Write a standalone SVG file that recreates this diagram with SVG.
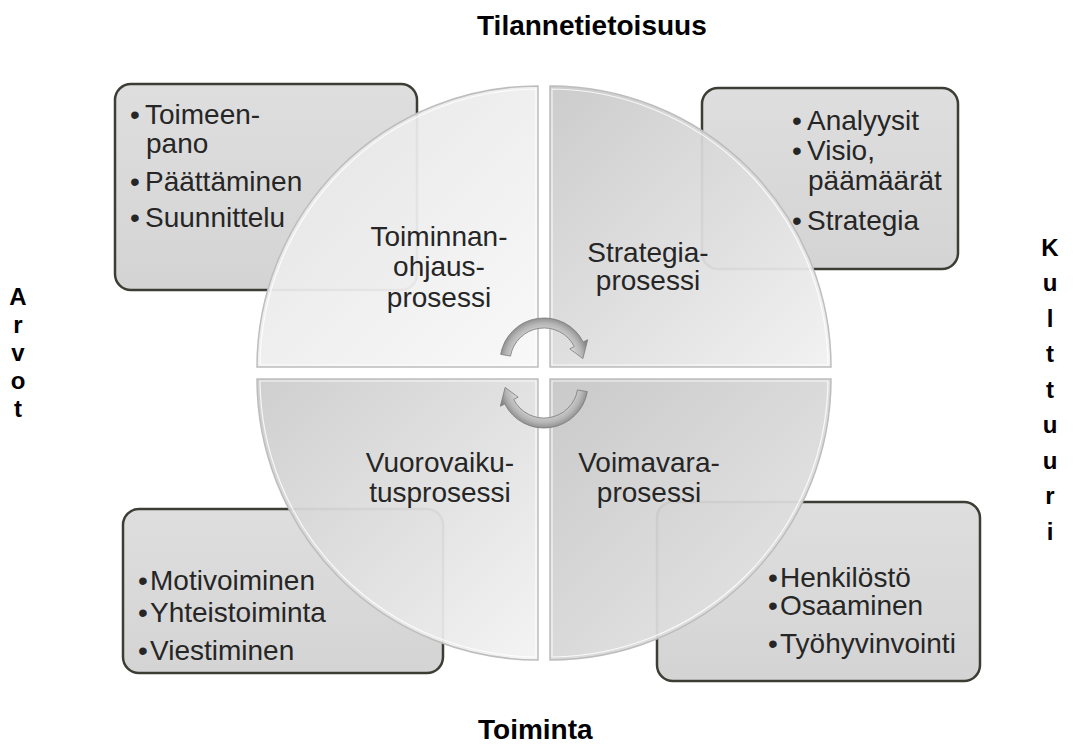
<svg xmlns="http://www.w3.org/2000/svg" width="1077" height="747" viewBox="0 0 1077 747">
  <style>
    text { font-family: "Liberation Sans", Arial, sans-serif; fill: #262626; }
    .hd { font-size: 28px; font-weight: bold; fill: #000; }
    .bt { font-size: 28px; }
    .ql { font-size: 28px; text-anchor: middle; }
    .vt { font-size: 24px; font-weight: bold; fill: #000; text-anchor: middle; }
    .box { fill: url(#gBox); stroke: #3d3d36; stroke-width: 2.5; }
    .quad { stroke: #bdbdbd; stroke-width: 1.5; fill-opacity: 0.94; }
    .hl { fill: none; stroke: #ffffff; stroke-width: 1.2; stroke-opacity: 0.8; }
    .arr { fill: url(#gArr); stroke: #7a7a7a; stroke-width: 0.8; }
  </style>
  <defs>
    <linearGradient id="gBox" x1="0" y1="0" x2="0" y2="1">
      <stop offset="0" stop-color="#dedede"/>
      <stop offset="1" stop-color="#d4d4d4"/>
    </linearGradient>
    <linearGradient id="gTL" x1="0" y1="0" x2="1" y2="1">
      <stop offset="0" stop-color="#e4e4e4"/>
      <stop offset="1" stop-color="#f8f8f8"/>
    </linearGradient>
    <linearGradient id="gTR" x1="0" y1="0" x2="1" y2="1">
      <stop offset="0" stop-color="#c9c9c9"/>
      <stop offset="1" stop-color="#f1f1f1"/>
    </linearGradient>
    <linearGradient id="gBL" x1="0" y1="0" x2="1" y2="1">
      <stop offset="0" stop-color="#cccccc"/>
      <stop offset="1" stop-color="#f3f3f3"/>
    </linearGradient>
    <linearGradient id="gBR" x1="0" y1="0" x2="1" y2="1">
      <stop offset="0" stop-color="#c6c6c6"/>
      <stop offset="1" stop-color="#e9e9e9"/>
    </linearGradient>
    <radialGradient id="gArr" gradientUnits="userSpaceOnUse" cx="544" cy="362" r="50">
      <stop offset="0.6" stop-color="#d8d8d8"/>
      <stop offset="0.78" stop-color="#b4b4b4"/>
      <stop offset="0.9" stop-color="#8a8a8a"/>
      <stop offset="1" stop-color="#7a7a7a"/>
    </radialGradient>
  </defs>

  <rect width="1077" height="747" fill="#ffffff"/>

  <!-- text boxes (behind the circle) -->
  <g id="box-toiminnanohjaus">
    <rect class="box" x="115" y="84" width="302" height="206" rx="16"/>
    <text class="bt"><tspan x="130" y="124">•</tspan><tspan x="145" y="124">Toimeen-</tspan></text>
    <text class="bt" x="146" y="153">pano</text>
    <text class="bt"><tspan x="130" y="191">•</tspan><tspan x="145" y="191">Päättäminen</tspan></text>
    <text class="bt"><tspan x="130" y="227">•</tspan><tspan x="145" y="227">Suunnittelu</tspan></text>
  </g>
  <g id="box-strategia">
    <rect class="box" x="702" y="88" width="256" height="181" rx="16"/>
    <text class="bt"><tspan x="792" y="130">•</tspan><tspan x="807" y="130">Analyysit</tspan></text>
    <text class="bt"><tspan x="792" y="160">•</tspan><tspan x="807" y="160">Visio,</tspan></text>
    <text class="bt" x="808" y="190">päämäärät</text>
    <text class="bt"><tspan x="792" y="230">•</tspan><tspan x="807" y="230">Strategia</tspan></text>
  </g>
  <g id="box-vuorovaikutus">
    <rect class="box" x="123" y="509" width="320" height="164" rx="16"/>
    <text class="bt"><tspan x="138" y="590">•</tspan><tspan x="150" y="590">Motivoiminen</tspan></text>
    <text class="bt"><tspan x="138" y="622">•</tspan><tspan x="150" y="622">Yhteistoiminta</tspan></text>
    <text class="bt"><tspan x="138" y="660">•</tspan><tspan x="150" y="660">Viestiminen</tspan></text>
  </g>
  <g id="box-voimavara">
    <rect class="box" x="657" y="502" width="323" height="179" rx="16"/>
    <text class="bt"><tspan x="768" y="587">•</tspan><tspan x="780" y="587">Henkilöstö</tspan></text>
    <text class="bt"><tspan x="768" y="615">•</tspan><tspan x="780" y="615">Osaaminen</tspan></text>
    <text class="bt"><tspan x="768" y="653">•</tspan><tspan x="780" y="653">Työhyvinvointi</tspan></text>
  </g>

  <!-- circle quadrants -->
  <g id="quad-toiminnanohjaus">
    <path class="quad" fill="url(#gTL)" d="M538,367 L257,367 A281,281 0 0 1 538,86 Z"/>
    <path class="hl" d="M536,365 L260,365 A279,279 0 0 1 536,89 Z"/>
    <text class="ql" x="439" y="246">Toiminnan-</text>
    <text class="ql" x="439" y="276">ohjaus-</text>
    <text class="ql" x="439" y="307">prosessi</text>
  </g>
  <g id="quad-strategia">
    <path class="quad" fill="url(#gTR)" d="M550,367 L550,86 A281,281 0 0 1 831,367 Z"/>
    <path class="hl" d="M552,365 L552,89 A279,279 0 0 1 828,365 Z"/>
    <text class="ql" x="648" y="262">Strategia-</text>
    <text class="ql" x="648" y="290">prosessi</text>
  </g>
  <g id="quad-vuorovaikutus">
    <path class="quad" fill="url(#gBL)" d="M538,379 L538,660 A281,281 0 0 1 257,379 Z"/>
    <path class="hl" d="M536,381 L536,657 A279,279 0 0 1 260,381 Z"/>
    <text class="ql" x="440" y="472">Vuorovaiku-</text>
    <text class="ql" x="440" y="502">tusprosessi</text>
  </g>
  <g id="quad-voimavara">
    <path class="quad" fill="url(#gBR)" d="M550,379 L831,379 A281,281 0 0 1 550,660 Z"/>
    <path class="hl" d="M552,381 L828,381 A279,279 0 0 1 552,657 Z"/>
    <text class="ql" x="649" y="472">Voimavara-</text>
    <text class="ql" x="649" y="502">prosessi</text>
  </g>

  <!-- cycle arrows -->
  <g id="connectors">
    <path class="arr" d="M500.67,354.36 A44,44 0 0 1 583.2,342 L587.66,339.75 L582.85,358.6 L569.84,348.83 L574.3,346.56 A34,34 0 0 0 510.52,356.1 Z"/>
    <path class="arr" transform="rotate(180 544 373)" d="M500.67,354.36 A44,44 0 0 1 583.2,342 L587.66,339.75 L582.85,358.6 L569.84,348.83 L574.3,346.56 A34,34 0 0 0 510.52,356.1 Z"/>
  </g>

  <!-- outer labels -->
  <g id="label-tilannetietoisuus">
    <text class="hd" x="477" y="35">Tilannetietoisuus</text>
  </g>
  <g id="label-toiminta">
    <text class="hd" x="478" y="739">Toiminta</text>
  </g>
  <g id="label-arvot">
    <text class="vt"><tspan x="18" y="305">A</tspan><tspan x="18" y="333">r</tspan><tspan x="18" y="361">v</tspan><tspan x="18" y="389">o</tspan><tspan x="18" y="417">t</tspan></text>
  </g>
  <g id="label-kulttuuri">
    <text class="vt"><tspan x="1050" y="256">K</tspan><tspan x="1050" y="291">u</tspan><tspan x="1050" y="327">l</tspan><tspan x="1050" y="362">t</tspan><tspan x="1050" y="398">t</tspan><tspan x="1050" y="433">u</tspan><tspan x="1050" y="469">u</tspan><tspan x="1050" y="504">r</tspan><tspan x="1050" y="540">i</tspan></text>
  </g>
</svg>
